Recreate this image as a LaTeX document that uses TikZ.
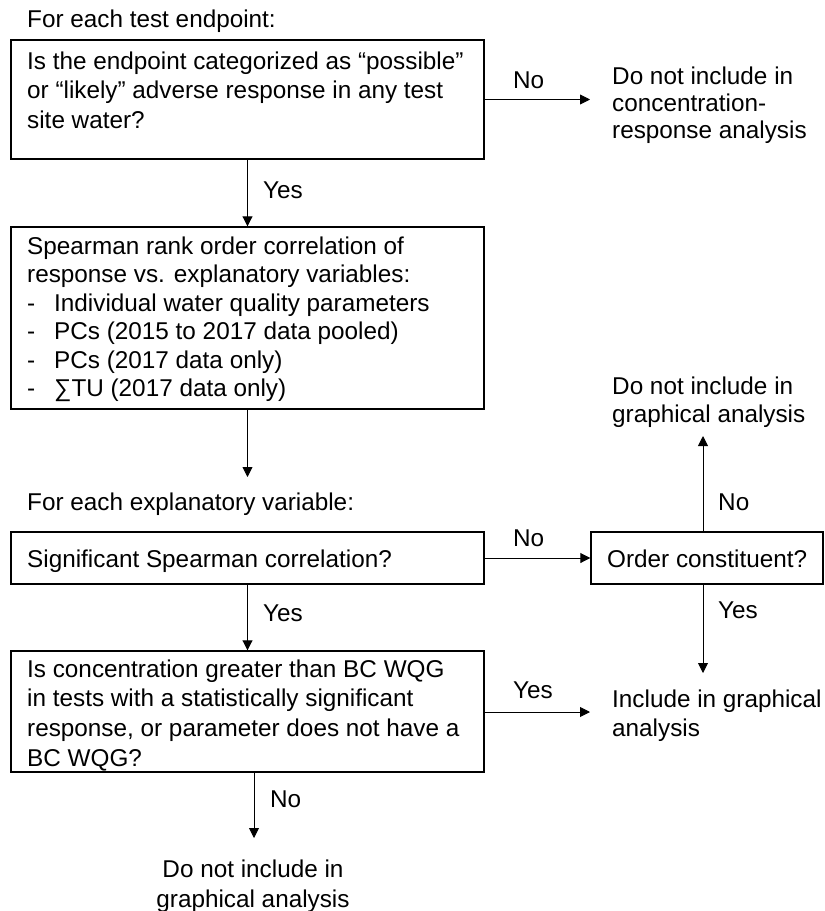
\documentclass[tikz,border=0pt]{standalone}
\usepackage{fontspec}
\setmainfont{Liberation Sans}
\usetikzlibrary{arrows.meta}
\begin{document}
\begin{tikzpicture}[x=1pt,y=-1pt,
  box/.style={draw, line width=1.4pt, inner sep=0pt},
  txt/.style={inner sep=0pt, anchor=north west, align=left},
  arr/.style={-{Triangle[length=10pt,width=10pt]}, line width=0.9pt},
  lbl/.style={inner sep=0pt, anchor=base west},
  every node/.append style={font=\fontsize{24.3}{29.5}\selectfont}]
\useasboundingbox (0,0) rectangle (825,911);
% boxes
\node[box, minimum width=473pt, minimum height=119pt] (b1) at (247.5,99.5) {};
\node[box, minimum width=473pt, minimum height=182pt] (b2) at (247.5,318) {};
\node[box, minimum width=473pt, minimum height=52pt] (b3) at (247.5,558) {};
\node[box, minimum width=232pt, minimum height=52pt] (b4) at (707,558) {};
\node[box, minimum width=473pt, minimum height=121pt] (b5) at (247.5,711.5) {};
% texts
\node[lbl] (h1) at (27,27) {For each test endpoint:};
\node[txt] (t1) at (27,51.5) {Is the endpoint categorized as “possible”\\or “likely” adverse response in any test\\site water?};
\node[txt, font=\fontsize{24.3}{28.5}\selectfont] (t2) at (27,236.5) {Spearman rank order correlation of\\response vs. explanatory variables:\\\makebox[27pt][l]{-}Individual water quality parameters\\\makebox[27pt][l]{-}PCs (2015 to 2017 data pooled)\\\makebox[27pt][l]{-}PCs (2017 data only)\\\makebox[27pt][l]{-}∑TU (2017 data only)};
\node[lbl] (h2) at (27,510) {For each explanatory variable:};
\node[lbl] (t3) at (27,567) {Significant Spearman correlation?};
\node[lbl] (t4) at (607,567) {Order constituent?};
\node[txt, font=\fontsize{24.3}{29.7}\selectfont] (t5) at (27,659.3) {Is concentration greater than BC WQG\\in tests with a statistically significant\\response, or parameter does not have a\\BC WQG?};
\node[txt, font=\fontsize{24.3}{27}\selectfont] (r1) at (612,66.3) {Do not include in\\concentration-\\response analysis};
\node[txt, font=\fontsize{24.3}{28.5}\selectfont] (r2) at (612,376.3) {Do not include in\\graphical analysis};
\node[txt, font=\fontsize{24.3}{29}\selectfont] (r3) at (612,689.3) {Include in graphical\\analysis};
\node[txt, anchor=north, align=center, font=\fontsize{24.3}{30}\selectfont] (r4) at (253,859.3) {Do not include in\\graphical analysis};
% connector end points
\coordinate (c1) at (590,99.5);
\coordinate (c2) at (247.5,477);
\coordinate (c4up) at (703,436);
\coordinate (c4dn) at (703,673);
\coordinate (c5) at (590,712);
\coordinate (c6) at (254,838);
% connectors
\draw[arr] (b1.east) -- (c1);
\draw[arr] (b1.south) -- (b2.north);
\draw[arr] (b2.south) -- (c2);
\draw[arr] (b3.east) -- (b4.west);
\draw[arr] (c4up |- b4.north) -- (c4up);
\draw[arr] (c4dn |- b4.south) -- (c4dn);
\draw[arr] (b3.south) -- (b5.north);
\draw[arr] (b5.east |- c5) -- (c5);
\draw[arr] (c6 |- b5.south) -- (c6);
% labels
\node[lbl] (l1) at (513,88.7) {No};
\node[lbl] (l2) at (263,198.7) {Yes};
\node[lbl] (l3) at (513,546.7) {No};
\node[lbl] (l4) at (718,510.7) {No};
\node[lbl] (l5) at (718,618.7) {Yes};
\node[lbl] (l6) at (263,621.7) {Yes};
\node[lbl] (l7) at (513,698.7) {Yes};
\node[lbl] (l8) at (270,807.7) {No};
\end{tikzpicture}
\end{document}
